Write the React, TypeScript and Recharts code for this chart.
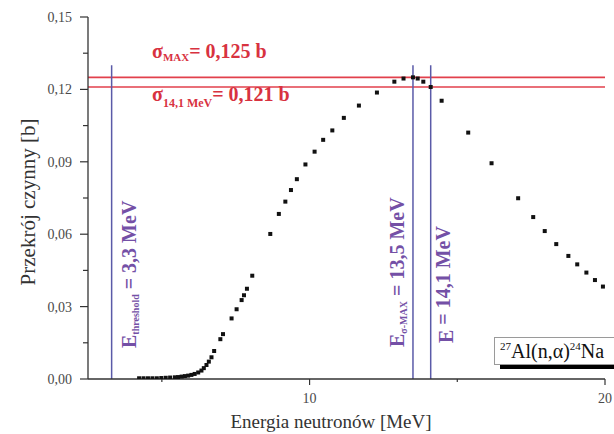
import { ScatterChart, Scatter, XAxis, YAxis, ReferenceLine } from 'recharts'

// neutron energy [MeV] and cross section [b] for 27Al(n,a)24Na
const energy = [
  4.23, 4.38, 4.53, 4.68, 4.83, 4.98, 5.13, 5.28, 5.44, 5.55, 5.67, 5.78, 5.89, 6.0, 6.11, 6.23,
  6.34, 6.42, 6.51, 6.59, 6.68, 6.77, 6.98, 7.07, 7.36, 7.53, 7.7, 7.78, 7.88, 8.06, 8.67, 8.96,
  9.18, 9.37, 9.57, 9.86, 10.17, 10.46, 10.77, 11.16, 11.67, 12.28, 12.87, 13.18, 13.5, 13.66,
  13.85, 14.1, 14.47, 15.37, 16.16, 17.06, 17.57, 17.96, 18.35, 18.76, 19.06, 19.37, 19.66, 19.93,
]
const sigma = [
  0.0003, 0.0003, 0.0003, 0.0003, 0.0003, 0.0004, 0.0005, 0.0006, 0.0007, 0.0008, 0.001, 0.0012,
  0.0014, 0.0017, 0.0021, 0.0027, 0.0035, 0.0045, 0.0058, 0.0072, 0.009, 0.0116, 0.0165, 0.0186,
  0.0251, 0.0289, 0.0327, 0.0347, 0.0374, 0.0428, 0.0601, 0.0684, 0.0735, 0.0783, 0.0828, 0.0889,
  0.0942, 0.0991, 0.103, 0.1082, 0.1133, 0.1187, 0.1232, 0.1245, 0.125, 0.1245, 0.1232, 0.121,
  0.1153, 0.1021, 0.0894, 0.0749, 0.0671, 0.0613, 0.0559, 0.051, 0.0475, 0.0441, 0.041, 0.0383,
]

const xTicks = [5, 10, 15, 20]
const xLabelled = [10, 20]
const yTicks = [0, 0.015, 0.03, 0.045, 0.06, 0.075, 0.09, 0.105, 0.12, 0.135, 0.15]
const yLabelled = [0, 0.03, 0.06, 0.09, 0.12, 0.15]

const SIGMA_MAX = 0.125
const SIGMA_141 = 0.121
const E_THRESHOLD = 3.3
const E_MAX = 13.5
const E_141 = 14.1
const MARKER_TOP = 0.13

const points = energy.map((e, i) => ({ e, s: sigma[i] }))

const SERIF = '"Liberation Serif", "Times New Roman", serif'
const AXIS = '#333'
const RED_TEXT = '#d8323f'
const RED_LINE = '#e2404c'
const BLUE_LINE = '#5a5aa8'
const PURPLE = '#7450a6'

const comma = (v: number, d: number) => v.toFixed(d).replace('.', ',')

function YTick({ x, y, payload }: any) {
  const major = yLabelled.includes(payload.value)
  return (
    <g>
      <line x1={x - (major ? 8 : 5)} x2={x} y1={y} y2={y} stroke={AXIS} strokeWidth={1.2} />
      {major && (
        <text x={x - 16} y={y} dy={5} textAnchor="end" fontFamily={SERIF} fontSize={14} fill="#4a4a4a">
          {comma(payload.value, 2)}
        </text>
      )}
    </g>
  )
}

function XTick({ x, y, payload }: any) {
  const major = xLabelled.includes(payload.value)
  return (
    <g>
      <line x1={x} x2={x} y1={y} y2={y + (major ? 6 : 3)} stroke={AXIS} strokeWidth={1.2} />
      {major && (
        <text x={x} y={y + 24} textAnchor="middle" fontFamily={SERIF} fontSize={14} fill="#4a4a4a">
          {payload.value}
        </text>
      )}
    </g>
  )
}

// rotated caption next to a vertical marker line
function vLabel(main: string, sub: string, rest: string, dx: number, db: number) {
  return (props: any) => {
    const vb = props.viewBox
    const x = vb.x + dx
    const y = vb.y + vb.height - db
    return (
      <text
        x={x}
        y={y}
        transform={`rotate(-90, ${x}, ${y})`}
        fontFamily={SERIF}
        fontWeight="bold"
        fontSize={20}
        fill={PURPLE}
      >
        {main}
        <tspan fontSize={10} dy={3}>{sub}</tspan>
        <tspan dy={-3}>{rest}</tspan>
      </text>
    )
  }
}

function hLabel(sub: string, rest: string, dx: number, dy: number, subSize: number, subDy: number) {
  return (props: any) => {
    const vb = props.viewBox
    return (
      <text x={vb.x + dx} y={vb.y + dy} fontFamily={SERIF} fontWeight="bold" fontSize={20} fill={RED_TEXT}>
        σ
        <tspan fontSize={subSize} dy={subDy}>{sub}</tspan>
        <tspan dy={-subDy}>{rest}</tspan>
      </text>
    )
  }
}

export default function App() {
  return (
    <div style={{ position: 'absolute', left: 0, top: 0, width: 614, height: 434, background: '#fff', overflow: 'hidden' }}>
      <ScatterChart width={614} height={434} margin={{ top: 17, right: 9, left: 0, bottom: 0 }}>
        <XAxis
          type="number"
          dataKey="e"
          domain={[2.5, 20]}
          ticks={xTicks}
          tick={<XTick />}
          tickSize={0}
          tickMargin={0}
          tickLine={false}
          axisLine={{ stroke: AXIS, strokeWidth: 1.3 }}
          height={55}
          allowDataOverflow
          label={() => (
            <text x={331} y={428} textAnchor="middle" fontFamily={SERIF} fontSize={19} fill="#333">
              Energia neutronów [MeV]
            </text>
          )}
        />
        <YAxis
          type="number"
          dataKey="s"
          domain={[0, 0.15]}
          ticks={yTicks}
          tick={<YTick />}
          tickSize={0}
          tickMargin={0}
          tickLine={false}
          axisLine={{ stroke: AXIS, strokeWidth: 1.3 }}
          width={88}
          allowDataOverflow
          label={() => (
            <text x={35} y={202} transform="rotate(-90, 35, 202)" textAnchor="middle" fontFamily={SERIF} fontSize={21} fill="#333">
              Przekrój czynny [b]
            </text>
          )}
        />
        <Scatter
          data={points}
          isAnimationActive={false}
          shape={(p: any) => <rect x={p.cx - 2} y={p.cy - 2} width={4} height={4} fill="#111" />}
        />
        <ReferenceLine
          y={SIGMA_MAX}
          stroke={RED_LINE}
          strokeWidth={1.6}
          label={hLabel('MAX', '= 0,125 b', 64, -19, 11, 3)}
        />
        <ReferenceLine
          y={SIGMA_141}
          stroke={RED_LINE}
          strokeWidth={1.6}
          label={hLabel('14,1 MeV', '= 0,121 b', 64, 14, 12, 6)}
        />
        <ReferenceLine
          segment={[{ x: E_THRESHOLD, y: 0 }, { x: E_THRESHOLD, y: MARKER_TOP }]}
          stroke={BLUE_LINE}
          strokeWidth={1.5}
          label={vLabel('E', 'threshold', ' = 3,3 MeV', 24, 31)}
        />
        <ReferenceLine
          segment={[{ x: E_MAX, y: 0 }, { x: E_MAX, y: MARKER_TOP }]}
          stroke={BLUE_LINE}
          strokeWidth={1.5}
          label={vLabel('E', 'σ-MAX', ' = 13,5 MeV', -9, 32)}
        />
        <ReferenceLine
          segment={[{ x: E_141, y: 0 }, { x: E_141, y: MARKER_TOP }]}
          stroke={BLUE_LINE}
          strokeWidth={1.5}
          label={vLabel('E', '', ' = 14,1 MeV', 22, 36)}
        />
      </ScatterChart>
      {/* reaction tag with offset shadow, runs past the right edge */}
      <svg width={614} height={434} style={{ position: 'absolute', left: 0, top: 0, pointerEvents: 'none' }}>
        <rect x={500} y={364} width={130} height={5} fill="#000" />
        <rect x={494.5} y={337.5} width={130} height={27} fill="#fff" stroke="#9a9a9a" />
        <text x={500} y={358} fontFamily={SERIF} fontSize={20} fill="#111">
          <tspan fontSize={11} dy={-8}>27</tspan>
          <tspan dy={8}>Al(n,α)</tspan>
          <tspan fontSize={11} dy={-8}>24</tspan>
          <tspan dy={8}>Na</tspan>
        </text>
      </svg>
    </div>
  )
}
